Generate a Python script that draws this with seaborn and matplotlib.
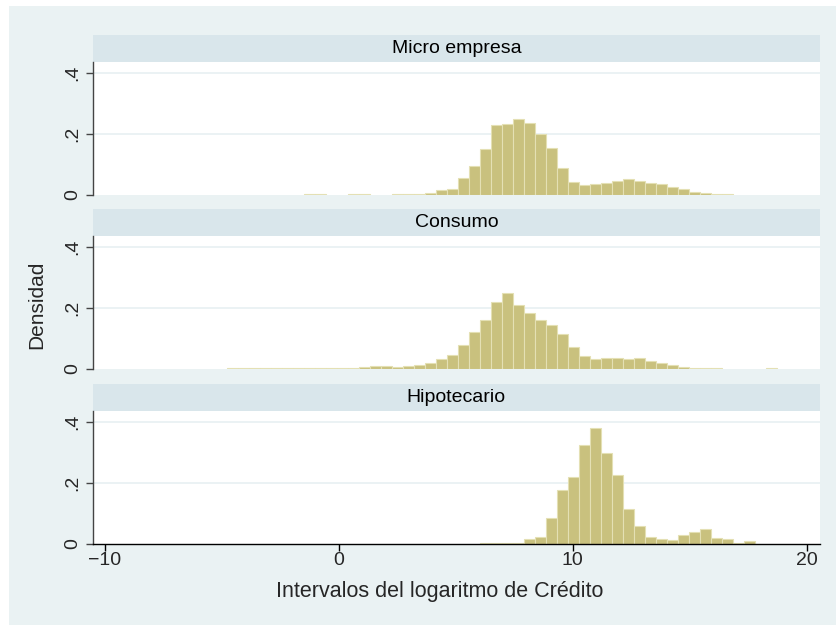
import numpy as np
import pandas as pd
import matplotlib
matplotlib.use("Agg")
import matplotlib.pyplot as plt
from matplotlib.patches import Rectangle
import seaborn as sns

# --- datos (densidad por intervalo) ---
paneles = ["Micro empresa", "Consumo", "Hipotecario"]
ancho_bin = 0.47

inicio_micro = -1.474
dens_micro = [0.003, 0.003, 0, 0, 0.003, 0.003, 0, 0, 0.002, 0.002,
              0.002, 0.005, 0.016, 0.021, 0.055, 0.094, 0.150, 0.231, 0.233, 0.250,
              0.236, 0.200, 0.155, 0.090, 0.044, 0.032, 0.035, 0.038, 0.045, 0.051,
              0.047, 0.039, 0.035, 0.026, 0.021, 0.011, 0.005, 0.003, 0.003]

inicio_consumo = -4.75
dens_consumo = [0.002] * 12 + [
    0.005, 0.009, 0.010, 0.008, 0.010, 0.013, 0.020, 0.032, 0.046, 0.080,
    0.120, 0.161, 0.221, 0.248, 0.209, 0.185, 0.162, 0.145, 0.114, 0.071,
    0.043, 0.033, 0.037, 0.035, 0.034, 0.035, 0.026, 0.021, 0.013, 0.007,
    0.003, 0.003, 0.003, 0, 0, 0, 0, 0.003]

inicio_hipo = 6.03
dens_hipo = [0.002, 0.004, 0.002, 0.002, 0.015, 0.023, 0.085, 0.176, 0.219, 0.325,
             0.380, 0.299, 0.225, 0.116, 0.060, 0.024, 0.015, 0.012, 0.029, 0.039,
             0.050, 0.019, 0.015, 0.002, 0.009]

inicios = [inicio_micro, inicio_consumo, inicio_hipo]
densidades = [dens_micro, dens_consumo, dens_hipo]

x_ticks = [-10, 0, 10, 20]
y_ticks = [0, 0.2, 0.4]
y_labels = ["0", ".2", ".4"]

# --- estilo ---
FONDO = "#EAF2F3"
CABECERA = "#D9E6EB"
BARRA = "#C9C17E"
BORDE = "#E4E0B4"

sns.set_theme(style="white")
plt.rcParams["font.family"] = ["Liberation Sans", "DejaVu Sans"]

fig = plt.figure(figsize=(8.37, 6.25), dpi=100)
fig.patch.set_facecolor("white")
fig.patches.append(Rectangle((9 / 837, 0), 1, 1 - 6 / 625, transform=fig.transFigure,
                             facecolor=FONDO, edgecolor="none", zorder=-10))

W, H = 837, 625
izq, der = 92.7, 820
bases = [195, 369, 544]
alto = 133

for i, (nombre, ini, dens) in enumerate(zip(paneles, inicios, densidades)):
    ax = fig.add_axes([izq / W, 1 - bases[i] / H, (der - izq) / W, alto / H])
    ax.set_facecolor("white")

    n = len(dens)
    bordes = [ini + ancho_bin * k for k in range(n + 1)]
    df = pd.DataFrame({"x": [b + ancho_bin / 2 for b in bordes[:-1]], "densidad": dens})
    sns.histplot(data=df, x="x", weights="densidad", bins=bordes, stat="count",
                 color=BARRA, alpha=1, edgecolor=BORDE, linewidth=0.8, ax=ax)
    for p in list(ax.patches):
        if p.get_height() <= 0:
            p.remove()

    ax.set_xlim(-10.51, 20.57)
    ax.set_ylim(0, 0.436)
    ax.set_yticks(y_ticks)
    ax.set_yticklabels(y_labels, rotation=90, va="center", fontsize=14)
    for y in y_ticks[1:]:
        ax.axhline(y, color="#E8F0F2", lw=1.2, zorder=0)
    ax.set_xlabel("")
    ax.set_ylabel("")

    for s in ["top", "right"]:
        ax.spines[s].set_visible(False)
    ax.spines["left"].set_color("#444444")
    ax.spines["left"].set_linewidth(1)
    ax.tick_params(axis="y", length=5, width=1, color="#444444", pad=3, left=True)

    if i < 2:
        ax.spines["bottom"].set_visible(False)
        ax.set_xticks([])
    else:
        ax.spines["bottom"].set_color("black")
        ax.spines["bottom"].set_linewidth(1)
        ax.set_xticks(x_ticks)
        ax.set_xticklabels([str(t).replace("-", "\u2212") for t in x_ticks], fontsize=14)
        ax.tick_params(axis="x", length=5, width=1, color="black", pad=1, bottom=True)

    # cabecera del panel
    h_cab = 27 / alto
    ax.add_patch(Rectangle((0, 1), 1, h_cab, transform=ax.transAxes,
                           facecolor=CABECERA, edgecolor="none", clip_on=False))
    ax.text(0.5, 1 + h_cab / 2, nombre, transform=ax.transAxes,
            ha="center", va="center", fontsize=14, color="black")

fig.text(37 / W, 1 - 305 / H, "Densidad", rotation=90, ha="center", va="center", fontsize=15)
fig.text(440 / W, 1 - 592 / H, "Intervalos del logaritmo de Crédito",
         ha="center", va="center", fontsize=15.5)

fig.savefig("out.png", dpi=100, facecolor=fig.get_facecolor())
